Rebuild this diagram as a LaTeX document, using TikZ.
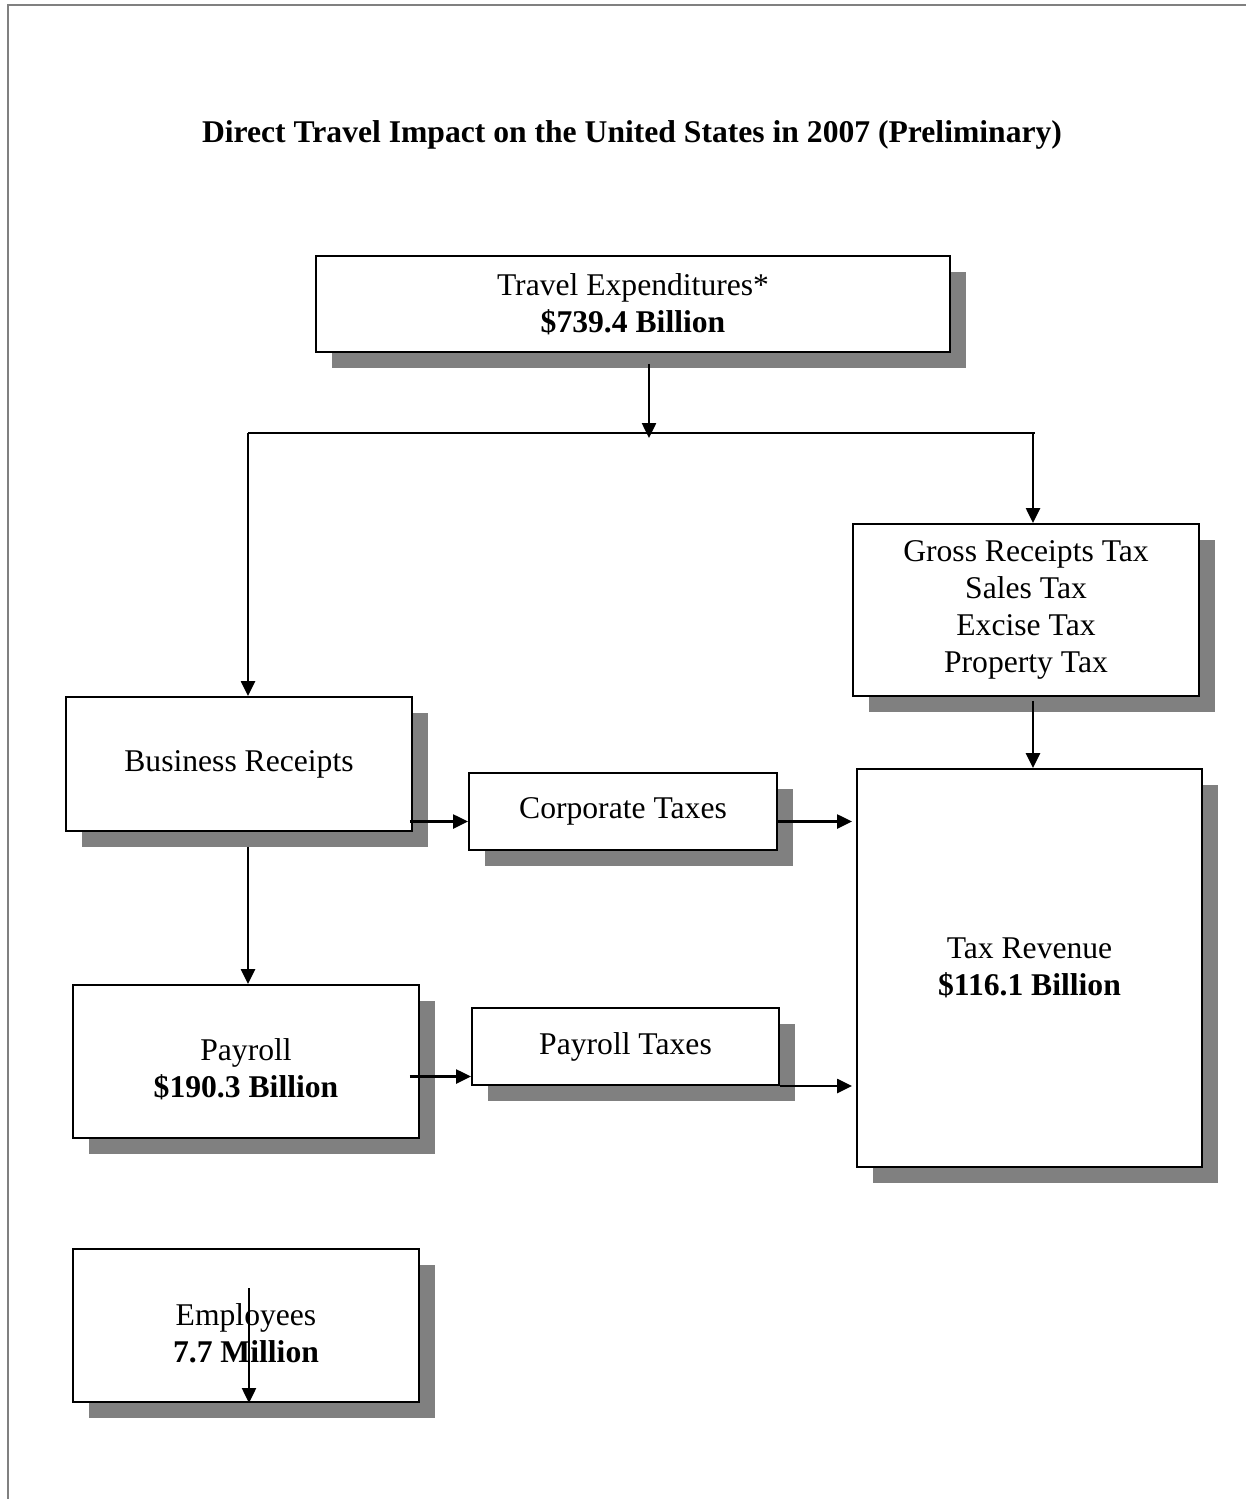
\documentclass[tikz,border=0pt]{standalone}
\usepackage{fontspec}
\setmainfont{Liberation Serif}
\usetikzlibrary{arrows.meta,shadows,calc}

\tikzset{
    box/.style={draw, line width=0.04cm, fill=white, align=center,
        drop shadow={shadow xshift=0.32cm, shadow yshift=-0.32cm, fill=black!50, opacity=1}},
    lowtext/.style={label={[align=center, yshift=-0.16cm]center:#1}},
    arr/.style={line width=0.05cm, -{Triangle[length=0.3cm,width=0.28cm]}},
}

\begin{document}
\begin{tikzpicture}[x=0.02cm, y=-0.02cm, font=\fontsize{18}{21}\selectfont]
    \useasboundingbox (0,0) rectangle (1246,1499);
    \draw[black!50, line width=0.04cm] (8,1499) -- (8,5) -- (1246,5);
    \node (title) at (632,135) {\bfseries Direct Travel Impact on the United States in 2007 (Preliminary)};

    \node[box, minimum width=12.68cm, minimum height=1.92cm] (te) at (633,304) {Travel Expenditures*\\\textbf{\$739.4 Billion}};
    \node[box, minimum width=6.92cm, minimum height=3.44cm] (grt) at (1026,610) {Gross Receipts Tax\\Sales Tax\\Excise Tax\\Property Tax};
    \node[box, minimum width=6.9cm, minimum height=7.96cm] (tr) at (1029.5,968) {Tax Revenue\\\textbf{\$116.1 Billion}};
    \node[box, minimum width=6.92cm, minimum height=2.68cm] (br) at (239,764) {Business Receipts};
    \node[box, minimum width=6.16cm, minimum height=1.54cm] (ct) at (623,811.5) {Corporate Taxes};
    \node[box, minimum width=6.92cm, minimum height=3.06cm,
        lowtext={Payroll\\\textbf{\$190.3 Billion}}] (pay) at (246,1061.5) {};
    \node[box, minimum width=6.14cm, minimum height=1.54cm] (pt) at (625.5,1046.5) {Payroll Taxes};
    \node[box, minimum width=6.92cm, minimum height=3.06cm,
        lowtext={Employees\\\textbf{7.7 Million}}] (emp) at (246,1325.5) {};

    % splitting line under the expenditures
    \coordinate (split) at (649,433);
    \coordinate (lft) at (248,433);
    \coordinate (rgt) at (1033,433);
    \draw[line width=0.05cm] (lft) -- (1035,433);
    \draw[arr, shorten <=0.22cm] (te.south -| split) -- ([yshift=-0.1cm]split);
    \draw[arr] (lft) -- (lft |- br.north);
    \draw[arr] (rgt) -- (rgt |- grt.north);
    \draw[arr, shorten <=0.08cm] (rgt |- grt.south) -- (rgt |- tr.north);

    \draw[arr, shorten <=0.3cm] (lft |- br.south) -- (lft |- pay.north);
    \draw[arr] ($(br.east |- ct.west)+(-3,10)$) -- ($(ct.west)+(0,10)$);
    \draw[arr] ($(ct.east)+(0,10)$) -- ($(ct.east -| tr.west)+(-4,10)$);
    \draw[arr] ($(pay.east)+(-10,15)$) -- ($(pay.east -| pt.west)+(0,15)$);
    \draw[arr] (pt.south east) -- ($(pt.south east -| tr.west)+(-4,0)$);
    \draw[arr] ($(emp.south)+(3,-115)$) -- ($(emp.south)+(3,0)$);
\end{tikzpicture}
\end{document}
